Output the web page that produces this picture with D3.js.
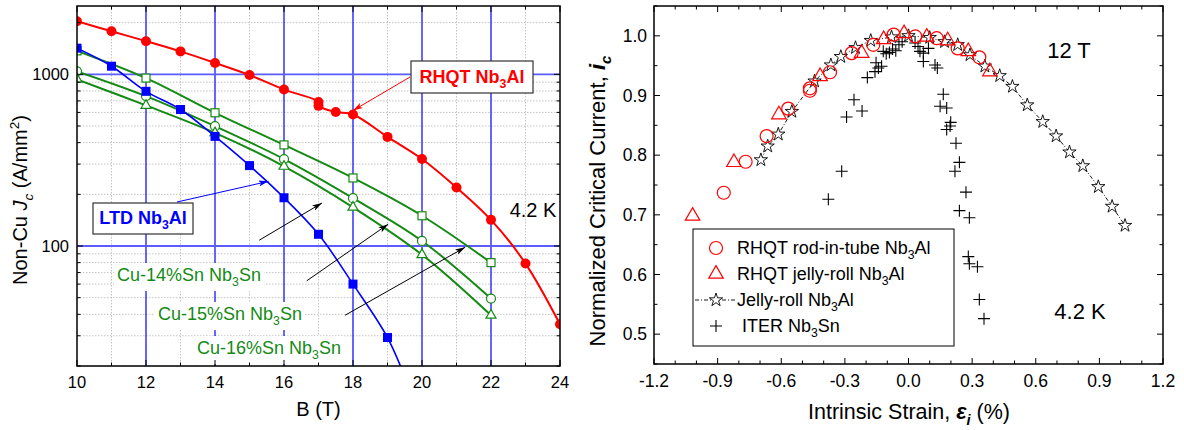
<!DOCTYPE html>
<html><head><meta charset="utf-8">
<script src="https://cdn.jsdelivr.net/npm/d3@7"></script>
<style>body{margin:0;background:#fff}svg{display:block}text{font-family:"Liberation Sans",Arial,Helvetica,sans-serif}</style>
</head><body><svg id="c" width="1184" height="430"></svg>
<script>
// ---------- DATA: left chart ----------
const bTicks=[10,12,14,16,18,20,22,24];
const jcTicks=[100,1000];
const rhqtB=[10,11,12,13,14,15,16,17,17,17.5,18,19,20,21,22,23,24];
const rhqtJc=[2040,1780,1560,1360,1165,990,815,690,655,603,583,432,321,219,142,79,35];
const ltdB=[10,11,12,13,14,15,16,17,18,19];
const ltdJc=[1420,1115,796,624,435,294,191,117,60,29.3];
const snB=[10,12,14,16,18,20,22];
const sn16Jc=[1370,951,597,388,249,150,80];     // open squares
const sn15Jc=[1041,747,499,321,190,107,49.4];   // open circles
const sn14Jc=[935,659,456,291,168,89,39.5];     // open triangles
// ---------- DATA: right chart ----------
const strainTicks=[-1.2,-0.9,-0.6,-0.3,0,0.3,0.6,0.9,1.2];
const icTicks=[0.5,0.6,0.7,0.8,0.9,1.0];
const rodStrain=[-0.871,-0.768,-0.669,-0.567,-0.465,-0.465,-0.370,-0.268,-0.166,-0.070,0.032,0.133,0.232,0.334];
const rodIc=[0.737,0.789,0.832,0.878,0.912,0.908,0.939,0.971,0.985,1.002,0.999,0.996,0.979,0.964];
const jellyStrain=[-1.018,-0.823,-0.611,-0.417,-0.221,-0.117,-0.021,0.086,0.185,0.282,0.384];
const jellyIc=[0.698,0.788,0.868,0.932,0.971,0.994,1.004,0.998,0.992,0.974,0.940];
const jrStrain=[-0.696,-0.664,-0.614,-0.550,-0.443,-0.366,-0.319,-0.250,-0.178,-0.080,0.000,0.100,0.170,0.232,0.290,0.360,0.430,0.490,0.560,0.633,0.696,0.759,0.822,0.895,0.960,1.021];
const jrIc=[0.792,0.815,0.835,0.873,0.924,0.951,0.965,0.980,0.992,0.998,1.000,0.997,0.990,0.985,0.968,0.949,0.933,0.915,0.884,0.856,0.832,0.805,0.782,0.747,0.714,0.682];
const iterStrain=[-0.378,-0.315,-0.292,-0.257,-0.219,-0.194,-0.158,-0.142,-0.153,-0.127,-0.119,-0.105,-0.090,-0.075,-0.060,-0.045,-0.030,0.031,0.045,0.054,0.070,0.094,0.070,0.125,0.136,0.164,0.149,0.180,0.199,0.196,0.180,0.224,0.240,0.219,0.271,0.240,0.287,0.282,0.287,0.325,0.334,0.356];
const iterIc=[0.726,0.773,0.864,0.893,0.874,0.930,0.940,0.946,0.955,0.949,0.974,0.970,0.972,0.978,0.975,0.985,0.990,0.988,0.982,0.974,0.971,0.979,0.957,0.951,0.946,0.902,0.882,0.879,0.855,0.849,0.843,0.820,0.788,0.773,0.738,0.707,0.695,0.630,0.618,0.613,0.558,0.526];

const zip=(a,b)=>a.map((v,i)=>[v,b[i]]);
const svg=d3.select('#c');
const RED='#ff0000',BLUE='#0000ff',GREEN='#148a14';

function rich(sel,segs,size){
  let shift=0;
  segs.forEach(s=>{
    const ts=sel.append('tspan').text(s.t);
    const target=s.sub?size*0.28:(s.sup?-size*0.42:0);
    ts.attr('dy',target-shift); shift=target;
    if(s.sub||s.sup) ts.attr('font-size',size*0.68);
    if(s.i) ts.attr('font-style','italic');
    if(s.b) ts.attr('font-weight','bold');
  });
  return sel;
}
function tri(s){const h=s/Math.sqrt(3);return `M0,${-h}L${s/2},${h/2}L${-s/2},${h/2}Z`;}

const defs=svg.append('defs');
[['arrK','#000'],['arrB',BLUE],['arrR',RED]].forEach(([id,c])=>{
  defs.append('marker').attr('id',id).attr('viewBox','0 0 10 6').attr('refX',10).attr('refY',3)
   .attr('markerWidth',10).attr('markerHeight',6).attr('markerUnits','userSpaceOnUse').attr('orient','auto')
   .append('path').attr('d','M0,0L10,3L0,6L2.5,3Z').attr('fill',c);
});

// ================= LEFT CHART =================
const L={x0:77,x1:560,y0:6,y1:366};
const xL=d3.scaleLinear().domain([10,24]).range([L.x0,L.x1]);
const yL=d3.scaleLog().domain([20,2500]).range([L.y1,L.y0]);
defs.append('clipPath').attr('id','clipL').append('rect').attr('x',L.x0).attr('y',L.y0).attr('width',L.x1-L.x0).attr('height',L.y1-L.y0);
const gL=svg.append('g');
const minorB=d3.range(11,24,1).filter(v=>!bTicks.includes(v));
const minorJc=yL.ticks().filter(v=>!jcTicks.includes(v)&&v<2500);
minorB.forEach(v=>gL.append('line').attr('x1',xL(v)).attr('x2',xL(v)).attr('y1',L.y0).attr('y2',L.y1).attr('stroke','#c4c4c4').attr('stroke-width',1).attr('stroke-dasharray','1.5,1.5'));
minorJc.forEach(v=>gL.append('line').attr('x1',L.x0).attr('x2',L.x1).attr('y1',yL(v)).attr('y2',yL(v)).attr('stroke','#c4c4c4').attr('stroke-width',1).attr('stroke-dasharray','1.5,1.5'));
bTicks.filter(v=>v>10&&v<24).forEach(v=>gL.append('line').attr('x1',xL(v)).attr('x2',xL(v)).attr('y1',L.y0).attr('y2',L.y1).attr('stroke',BLUE).attr('stroke-width',1.2));
jcTicks.forEach(v=>gL.append('line').attr('x1',L.x0).attr('x2',L.x1).attr('y1',yL(v)).attr('y2',yL(v)).attr('stroke','#5b5bff').attr('stroke-width',1.8));

const snLabels=[['14',117,281],['15',158,320],['16',197,354]];
snLabels.forEach(([p,x,y])=>{
  const t=gL.append('text').attr('x',x).attr('y',y).attr('font-size',18).attr('fill',GREEN);
  rich(t,[{t:`Cu-${p}%Sn Nb`},{t:'3',sub:1},{t:'Sn'}],18);
  const bb=t.node().getBBox();
  gL.insert('rect','text').attr('x',bb.x-3).attr('y',bb.y-2).attr('width',bb.width+6).attr('height',bb.height+4).attr('fill','#fff');
});

const gLd=svg.append('g').attr('clip-path','url(#clipL)');
const lineL=d3.line().x(d=>xL(d[0])).y(d=>yL(d[1])).curve(d3.curveCatmullRom.alpha(0.5));
[[sn16Jc,'sq'],[sn15Jc,'ci'],[sn14Jc,'tr']].forEach(([arr,m])=>{
  const pts=zip(snB,arr);
  gLd.append('path').attr('d',lineL(pts)).attr('fill','none').attr('stroke',GREEN).attr('stroke-width',2);
  pts.forEach(p=>{
    const cx=xL(p[0]),cy=yL(p[1]);
    if(m==='sq') gLd.append('rect').attr('x',cx-4).attr('y',cy-4).attr('width',8).attr('height',8).attr('fill','#fff').attr('stroke',GREEN).attr('stroke-width',1.2);
    else if(m==='ci') gLd.append('circle').attr('cx',cx).attr('cy',cy).attr('r',4.5).attr('fill','#fff').attr('stroke',GREEN).attr('stroke-width',1.2);
    else gLd.append('path').attr('d',tri(10)).attr('transform',`translate(${cx},${cy})`).attr('fill','#fff').attr('stroke',GREEN).attr('stroke-width',1.2);
  });
});
const ltdPts=zip(ltdB,ltdJc);
const n=ltdPts.length, sl=Math.log10(ltdPts[n-1][1])-Math.log10(ltdPts[n-2][1]);
const ltdLine=ltdPts.concat([[ltdB[n-1]+0.6,Math.pow(10,Math.log10(ltdJc[n-1])+sl*0.6*1.5)]]);
gLd.append('path').attr('d',lineL(ltdLine)).attr('fill','none').attr('stroke',BLUE).attr('stroke-width',1.6);
ltdPts.forEach(p=>gLd.append('rect').attr('x',xL(p[0])-4.5).attr('y',yL(p[1])-4.5).attr('width',9).attr('height',9).attr('fill',BLUE));
const rhqtPts=zip(rhqtB,rhqtJc);
gLd.append('path').attr('d',lineL(rhqtPts)).attr('fill','none').attr('stroke',RED).attr('stroke-width',2);
rhqtPts.forEach(p=>gLd.append('circle').attr('cx',xL(p[0])).attr('cy',yL(p[1])).attr('r',5).attr('fill',RED));

const gA=svg.append('g');
gA.append('rect').attr('x',L.x0).attr('y',L.y0).attr('width',L.x1-L.x0).attr('height',L.y1-L.y0).attr('fill','none').attr('stroke','#000').attr('stroke-width',1.5);
d3.range(10,25,1).forEach(v=>{
  const len=bTicks.includes(v)?6:3.5;
  gA.append('line').attr('x1',xL(v)).attr('x2',xL(v)).attr('y1',L.y1).attr('y2',L.y1-len).attr('stroke','#000');
  gA.append('line').attr('x1',xL(v)).attr('x2',xL(v)).attr('y1',L.y0).attr('y2',L.y0+len).attr('stroke','#000');
});
jcTicks.concat(minorJc).forEach(v=>{
  const len=jcTicks.includes(v)?6:3.5;
  gA.append('line').attr('x1',L.x0).attr('x2',L.x0+len).attr('y1',yL(v)).attr('y2',yL(v)).attr('stroke','#000');
  gA.append('line').attr('x1',L.x1).attr('x2',L.x1-len).attr('y1',yL(v)).attr('y2',yL(v)).attr('stroke','#000');
});
bTicks.forEach(v=>gA.append('text').attr('x',xL(v)).attr('y',388).attr('text-anchor','middle').attr('font-size',16.5).text(v));
jcTicks.forEach(v=>gA.append('text').attr('x',69).attr('y',yL(v)+6).attr('text-anchor','end').attr('font-size',16.5).text(v));
gA.append('text').attr('x',(L.x0+L.x1)/2).attr('y',416).attr('text-anchor','middle').attr('font-size',20).text('B (T)');
rich(gA.append('text').attr('transform','translate(27,200) rotate(-90)').attr('text-anchor','middle').attr('font-size',20),
  [{t:'Non-Cu '},{t:'J',i:1},{t:'c',sub:1,i:1},{t:' (A/mm'},{t:'2',sup:1},{t:')'}],20);

const gN=svg.append('g');
gN.append('rect').attr('x',411).attr('y',61).attr('width',122).attr('height',32).attr('fill','#fff').attr('stroke','#333').attr('stroke-width',1.2);
rich(gN.append('text').attr('x',472).attr('y',83).attr('text-anchor','middle').attr('font-size',18).attr('font-weight','bold').attr('fill',RED),[{t:'RHQT Nb'},{t:'3',sub:1},{t:'Al'}],18);
gN.append('line').attr('x1',410).attr('y1',77).attr('x2',xL(18)).attr('y2',yL(583)-4).attr('stroke',RED).attr('stroke-width',1).attr('marker-end','url(#arrR)');
gN.append('rect').attr('x',93).attr('y',203).attr('width',100).attr('height',31).attr('fill','#fff').attr('stroke','#333').attr('stroke-width',1.2);
rich(gN.append('text').attr('x',143).attr('y',224).attr('text-anchor','middle').attr('font-size',18).attr('font-weight','bold').attr('fill',BLUE),[{t:'LTD Nb'},{t:'3',sub:1},{t:'Al'}],18);
gN.append('line').attr('x1',177).attr('y1',202).attr('x2',xL(15.55)).attr('y2',yL(238)).attr('stroke',BLUE).attr('stroke-width',1).attr('marker-end','url(#arrB)');
[[15.28,108,17.1,178],[16.66,62.7,19.02,134],[17.77,39.5,21.25,98.3]].forEach(a=>{
  gN.append('line').attr('x1',xL(a[0])).attr('y1',yL(a[1])).attr('x2',xL(a[2])).attr('y2',yL(a[3])).attr('stroke','#000').attr('stroke-width',1).attr('marker-end','url(#arrK)');
});
gN.append('text').attr('x',533).attr('y',217).attr('text-anchor','middle').attr('font-size',20).text('4.2 K');

// ================= RIGHT CHART =================
const R={x0:654,x1:1163,y0:6,y1:364};
const xR=d3.scaleLinear().domain([-1.2,1.2]).range([R.x0,R.x1]);
const yR=d3.scaleLinear().domain([0.45,1.05]).range([R.y1,R.y0]);
const gR=svg.append('g');
gR.append('rect').attr('x',R.x0).attr('y',R.y0).attr('width',R.x1-R.x0).attr('height',R.y1-R.y0).attr('fill','none').attr('stroke','#000').attr('stroke-width',1.5);
d3.range(0,25).forEach(i=>{
  const v=-1.2+i*0.1, len=i%3===0?6:3.5;
  gR.append('line').attr('x1',xR(v)).attr('x2',xR(v)).attr('y1',R.y1).attr('y2',R.y1-len).attr('stroke','#000');
  gR.append('line').attr('x1',xR(v)).attr('x2',xR(v)).attr('y1',R.y0).attr('y2',R.y0+len).attr('stroke','#000');
});
d3.range(0,13).forEach(i=>{
  const v=0.45+i*0.05, len=i%2===1?6:3.5;
  gR.append('line').attr('x1',R.x0).attr('x2',R.x0+len).attr('y1',yR(v)).attr('y2',yR(v)).attr('stroke','#000');
  gR.append('line').attr('x1',R.x1).attr('x2',R.x1-len).attr('y1',yR(v)).attr('y2',yR(v)).attr('stroke','#000');
});
strainTicks.forEach(v=>gR.append('text').attr('x',xR(v)).attr('y',387).attr('text-anchor','middle').attr('font-size',17.5).text(d3.format('.1f')(v).replace('−','-')));
icTicks.forEach(v=>gR.append('text').attr('x',647).attr('y',yR(v)+6).attr('text-anchor','end').attr('font-size',17.5).text(d3.format('.1f')(v)));
rich(gR.append('text').attr('x',909).attr('y',419).attr('text-anchor','middle').attr('font-size',21.5),
  [{t:'Intrinsic Strain, '},{t:'ε',i:1,b:1},{t:'i',sub:1,i:1,b:1},{t:' (%)'}],21.5);
rich(gR.append('text').attr('transform','translate(605,201) rotate(-90)').attr('text-anchor','middle').attr('font-size',22),
  [{t:'Normalized Critical Current, '},{t:'i',i:1,b:1},{t:'c',sub:1,i:1,b:1}],22);
gR.append('text').attr('x',1069).attr('y',58).attr('text-anchor','middle').attr('font-size',22).text('12 T');
gR.append('text').attr('x',1080).attr('y',319).attr('text-anchor','middle').attr('font-size',22).text('4.2 K');

const starPath=d3.symbol().type(d3.symbolStar).size(55)();
function crossPath(a){return `M${-a},0H${a}M0,${-a}V${a}`;}
const jrPts=zip(jrStrain,jrIc);
gR.append('path').attr('d',d3.line().x(d=>xR(d[0])).y(d=>yR(d[1]))(jrPts)).attr('fill','none').attr('stroke','#000').attr('stroke-width',0.9).attr('stroke-dasharray','4,2,1,2');
jrPts.forEach(p=>gR.append('path').attr('d',starPath).attr('transform',`translate(${xR(p[0])},${yR(p[1])})`).attr('fill','#fff').attr('stroke','#000').attr('stroke-width',0.9));
zip(iterStrain,iterIc).forEach(p=>gR.append('path').attr('d',crossPath(6)).attr('transform',`translate(${xR(p[0])},${yR(p[1])})`).attr('stroke','#000').attr('stroke-width',1.1));
zip(jellyStrain,jellyIc).forEach(p=>gR.append('path').attr('d',tri(14.5)).attr('transform',`translate(${xR(p[0])},${yR(p[1])})`).attr('fill','none').attr('stroke',RED).attr('stroke-width',1.2));
zip(rodStrain,rodIc).forEach(p=>gR.append('circle').attr('cx',xR(p[0])).attr('cy',yR(p[1])).attr('r',6.5).attr('fill','none').attr('stroke',RED).attr('stroke-width',1.2));

const lg=gR.append('g');
lg.append('rect').attr('x',693).attr('y',229).attr('width',261).attr('height',117).attr('fill','#fff').attr('stroke','#000').attr('stroke-width',1);
const rows=[248,274,300,326];
lg.append('circle').attr('cx',716).attr('cy',rows[0]).attr('r',6.5).attr('fill','none').attr('stroke',RED).attr('stroke-width',1.2);
lg.append('path').attr('d',tri(14.5)).attr('transform',`translate(716,${rows[1]})`).attr('fill','none').attr('stroke',RED).attr('stroke-width',1.2);
lg.append('line').attr('x1',695).attr('x2',737).attr('y1',rows[2]).attr('y2',rows[2]).attr('stroke','#000').attr('stroke-width',0.9).attr('stroke-dasharray','4,2,1,2');
lg.append('path').attr('d',starPath).attr('transform',`translate(716,${rows[2]})`).attr('fill','#fff').attr('stroke','#000').attr('stroke-width',0.9);
lg.append('path').attr('d',crossPath(6)).attr('transform',`translate(716,${rows[3]})`).attr('stroke','#000').attr('stroke-width',1.1);
const legTexts=[[737,[{t:'RHQT rod-in-tube Nb'},{t:'3',sub:1},{t:'Al'}]],[737,[{t:'RHQT jelly-roll Nb'},{t:'3',sub:1},{t:'Al'}]],[737,[{t:'Jelly-roll Nb'},{t:'3',sub:1},{t:'Al'}]],[742,[{t:'ITER Nb'},{t:'3',sub:1},{t:'Sn'}]]];
legTexts.forEach((d,i)=>rich(lg.append('text').attr('x',d[0]).attr('y',rows[i]+6).attr('font-size',18),d[1],18));
</script></body></html>
